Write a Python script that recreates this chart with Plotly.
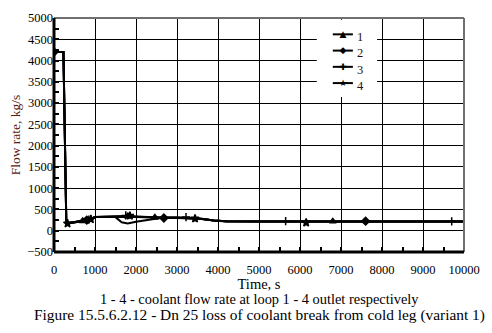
import plotly.graph_objects as go

# ---- data ----
time_s = [0, 230, 300, 350, 500, 700, 900, 1000, 1300, 1500, 1650, 1800, 2000, 2300,
          2600, 3000, 3300, 3600, 3900, 4200, 5000, 6000, 7000, 8000, 9000, 10000]
loop1 = [4200, 4200, 200, 180, 200, 230, 270, 320, 330, 330, 340, 340, 330, 320,
         310, 310, 300, 280, 240, 220, 215, 215, 215, 215, 215, 215]
loop2 = [4200, 4200, 210, 185, 205, 240, 280, 325, 330, 335, 340, 330, 320, 310,
         305, 305, 295, 275, 240, 220, 218, 218, 218, 218, 218, 218]
loop3 = [4200, 4200, 190, 170, 195, 225, 265, 320, 330, 320, 200, 170, 210, 260,
         300, 310, 305, 280, 240, 220, 215, 215, 215, 215, 215, 215]
loop4 = [4200, 4200, 200, 175, 200, 235, 275, 322, 332, 332, 345, 345, 335, 315,
         308, 312, 298, 276, 238, 218, 214, 214, 214, 214, 214, 214]

mark1_t = [700, 1800, 2460, 6800]
mark1_v = [230, 340, 310, 220]
mark2_t = [0, 800, 2680, 7600]
mark2_v = [4200, 250, 300, 225]
mark3_t = [850, 1750, 3220, 5650, 9700]
mark3_v = [260, 360, 320, 225, 220]
mark4_t = [330, 900, 1850, 3440, 6150]
mark4_v = [170, 270, 350, 285, 190]

x_ticks = list(range(0, 10001, 1000))
x_tick_labels = [str(v) for v in x_ticks]
y_ticks = list(range(-500, 5001, 500))

names = ["1", "2", "3", "4"]
symbols = ["triangle-up", "diamond", "cross-thin", "star"]
legend_glyphs = ["▲", "◆", "✚", "★"]

series = [(loop1, mark1_t, mark1_v), (loop2, mark2_t, mark2_v),
          (loop3, mark3_t, mark3_v), (loop4, mark4_t, mark4_v)]

fig = go.Figure()
for name, sym, (vals, mt, mv) in zip(names, symbols, series):
    fig.add_trace(go.Scatter(x=time_s, y=vals, mode="lines", name=name,
                             line=dict(color="black", width=2),
                             showlegend=False, hoverinfo="skip"))
    fig.add_trace(go.Scatter(x=mt, y=mv, mode="markers", name=name,
                             marker=dict(symbol=sym, size=6, color="black",
                                         line=dict(color="black", width=1.5)),
                             showlegend=False))

font_serif = "Liberation Serif"

# ---- compact legend: white box, short lines, glyphs and labels ----
PLOT_H = 234.0
LEG_FONT = 12.5
line_gap = 1.3 * LEG_FONT / PLOT_H      # plotly multi-line spacing, in paper units
leg_center = 0.826
leg_y = [leg_center + (1.5 - i) * line_gap for i in range(len(names))]

shapes = [
    dict(type="rect", xref="paper", yref="paper", x0=0.641, x1=0.788, y0=0.662, y1=0.992,
         fillcolor="white", line=dict(width=0), layer="above"),
]
for yy in leg_y:
    shapes.append(dict(type="line", xref="paper", yref="paper", x0=0.680, x1=0.729,
                       y0=yy, y1=yy, line=dict(color="black", width=2), layer="above"))

annotations = [
    dict(text="<br>".join(f"<span style='font-size:9px'>{g}</span>" for g in legend_glyphs),
         xref="paper", yref="paper", x=0.705, y=leg_center,
         xanchor="center", yanchor="middle", showarrow=False,
         font=dict(family="DejaVu Sans", size=LEG_FONT, color="black")),
    dict(text="<br>".join(names), xref="paper", yref="paper", x=0.735,
         y=leg_center - 0.011,
         xanchor="left", yanchor="middle", showarrow=False, align="left",
         font=dict(family=font_serif, size=LEG_FONT, color="#2a1008")),
]

shapes += [
    dict(type="line", xref="paper", yref="paper", x0=0, x1=1, y0=1, y1=1,
         line=dict(color="#707070", width=2)),
    dict(type="line", xref="paper", yref="paper", x0=1, x1=1, y0=0, y1=1,
         line=dict(color="#707070", width=2)),
    dict(type="line", xref="paper", yref="paper", x0=0, x1=0, y0=0, y1=1,
         line=dict(color="black", width=3)),
    dict(type="line", xref="paper", yref="paper", x0=0, x1=1, y0=0, y1=0,
         line=dict(color="black", width=3)),
]

annotations += [
    dict(text="1 - 4 - coolant flow rate at loop 1 - 4 outlet respectively",
         xref="paper", yref="paper", x=0.5, y=-0.16, yanchor="top",
         showarrow=False, font=dict(family=font_serif, size=14.4)),
    dict(text="Figure 15.5.6.2.12 - Dn 25 loss of coolant break from cold leg (variant 1)",
         xref="paper", yref="paper", x=0.5, y=-0.222, yanchor="top",
         showarrow=False, font=dict(family=font_serif, size=15.4)),
]

fig.update_layout(
    width=492, height=333,
    margin=dict(l=54, r=28, t=18, b=81),
    paper_bgcolor="white", plot_bgcolor="white",
    font=dict(family=font_serif, size=12, color="black"),
    showlegend=False,
    xaxis=dict(range=[0, 10000], tickvals=x_ticks, ticktext=x_tick_labels,
               showgrid=True, gridcolor="black", gridwidth=1,
               zeroline=False, showline=False,
               ticks="inside", ticklen=5, tickwidth=2, tickcolor="black",
               ticklabelstandoff=8,
               minor=dict(dtick=500, ticks="inside", ticklen=5, tickwidth=2,
                          tickcolor="black", showgrid=False),
               title=dict(text="Time, s", standoff=0,
                          font=dict(family=font_serif, size=14.5)),
               tickfont=dict(family=font_serif, size=12.5)),
    yaxis=dict(range=[-500, 5000], tickvals=y_ticks,
               showgrid=True, gridcolor="black", gridwidth=1,
               zeroline=False, showline=False,
               ticks="inside", ticklen=5, tickwidth=2, tickcolor="black",
               minor=dict(dtick=250, ticks="inside", ticklen=5, tickwidth=2,
                          tickcolor="black", showgrid=False),
               title=dict(text="Flow rate, kg/s", standoff=3,
                          font=dict(family=font_serif, size=13.5, color="#5a1a10")),
               tickfont=dict(family=font_serif, size=12.5)),
    shapes=shapes,
    annotations=annotations,
)

fig.write_html("out.html")
